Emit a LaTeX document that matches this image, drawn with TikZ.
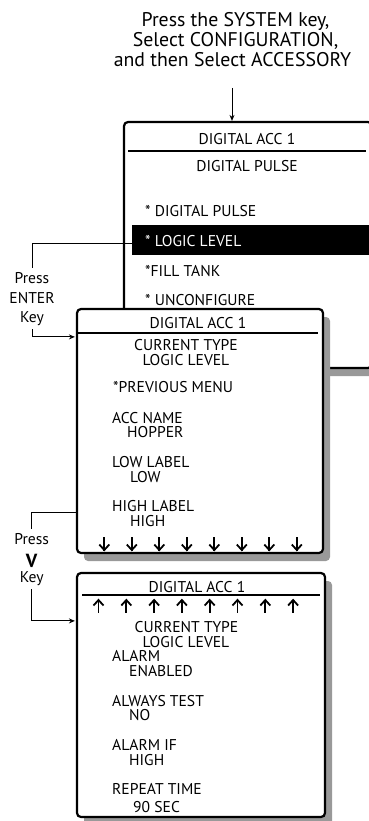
\documentclass[tikz,border=0pt]{standalone}
\usepackage{fontspec}
\setmainfont{PT Sans}
\usetikzlibrary{arrows.meta,shadows,calc}
\definecolor{shade}{gray}{0.6}
\begin{document}
\begin{tikzpicture}[x=1pt,y=-1pt,
  every node/.style={inner sep=0pt, font=\fontsize{15.6}{20}\selectfont},
  lbl/.style={anchor=base west},
  mid/.style={anchor=base},
  head/.style={anchor=base, font=\fontsize{19.8}{20}\selectfont},
  screen/.style={draw, line width=2.2pt, rounded corners=4pt, fill=white,
    drop shadow={shadow xshift=7pt, shadow yshift=-8pt, fill=shade, opacity=1}},
  rule/.style={line width=2.2pt},
  conn/.style={line width=0.9pt},
  tip/.style={-{Stealth[length=6pt,width=5pt]}},
  glyph/.style={line width=1.8pt},
  keylbl/.style={anchor=base, inner ysep=4pt},
]
\useasboundingbox (0,0) rectangle (369,821);
\clip (0,0) rectangle (369,821);

% instruction at the top
\node[head] (n1) at (235.5,26.7) {Press the SYSTEM key,};
\node[head] (n2) at (235.5,46.7) {Select CONFIGURATION,};
\node[head] (n3) at (232.5,66.7) {and then Select ACCESSORY};
\coordinate (nstart) at (232,88);

% first screen: type selection
\node[screen, minimum width=248, minimum height=246] (b1) at (248,245) {};
\draw[conn, tip] (nstart) -- (nstart |- b1.north);
\draw[rule] (128,151) -- (366,151);
\node[mid] (t1) at (247,145) {DIGITAL ACC 1};
\node[mid] (t1b) at (247,171.7) {DIGITAL PULSE};
\node[lbl] (o1) at (145,216.7) {* DIGITAL PULSE};
\node[fill=black, minimum width=240, minimum height=30, anchor=north west] (sel) at (132,225) {};
\node[lbl, text=white] (o2) at (145,246) {* LOGIC LEVEL};
\node[lbl] (o3) at (145,276) {*FILL TANK};
\node[lbl] (o4) at (145,305) {* UNCONFIGURE};

% second screen: settings, first page
\node[screen, minimum width=246, minimum height=244] (b2) at (200,431) {};
\draw[rule] (78,333) -- (318,333);
\node[mid] (t2) at (198,328) {DIGITAL ACC 1};
\node[mid] (c2a) at (186,350) {CURRENT TYPE};
\node[mid] (c2b) at (186,365) {LOGIC LEVEL};
\node[lbl] (p2) at (113,392) {*PREVIOUS MENU};
\node[lbl] (n2a) at (112,423) {ACC NAME};
\node[lbl] (n2b) at (127,437) {HOPPER};
\node[lbl] (l2a) at (112,467) {LOW LABEL};
\node[lbl] (l2b) at (130,482) {LOW};
\node[lbl] (h2a) at (112,511) {HIGH LABEL};
\node[lbl] (h2b) at (130,526) {HIGH};
\foreach \i in {0,...,7}{
  \pgfmathsetmacro{\xx}{104.3+27.5*\i}
  \draw[glyph] (\xx,537) -- (\xx,550.5);
  \draw[glyph, line join=miter] (\xx-5,544.5) -- (\xx,550) -- (\xx+5,544.5);
}

% third screen: settings, second page
\node[screen, minimum width=248, minimum height=244] (b3) at (201,695) {};
\draw[rule] (82,595) -- (320,595);
\node[mid] (t3) at (197,592) {DIGITAL ACC 1};
\foreach \i in {0,...,7}{
  \pgfmathsetmacro{\xx}{98.5+27.8*\i}
  \draw[glyph] (\xx,600) -- (\xx,613);
  \draw[glyph, line join=miter] (\xx-5,605.5) -- (\xx,600) -- (\xx+5,605.5);
}
\node[mid] (c3a) at (186.5,632) {CURRENT TYPE};
\node[mid] (c3b) at (186,647) {LOGIC LEVEL};
\node[lbl] (a3a) at (112,661.5) {ALARM};
\node[lbl] (a3b) at (129,676) {ENABLED};
\node[lbl] (w3a) at (112,706) {ALWAYS TEST};
\node[lbl] (w3b) at (129,720) {NO};
\node[lbl] (f3a) at (112,750) {ALARM IF};
\node[lbl] (f3b) at (129,765) {HIGH};
\node[lbl] (r3a) at (112,794) {REPEAT TIME};
\node[lbl] (r3b) at (133,812) {90 SEC};

% key labels and their connectors
\node[keylbl] (pe) at (32,283) {Press};
\node[keylbl] (ee) at (32,303) {ENTER};
\node[keylbl] (ke) at (32,322) {Key};
\draw[conn] ($(sel.west)+(0,3)$) -| (pe.north);
\draw[conn, tip, shorten >=1pt] (ke.south) |- ($(b2.north west)+(0,29)$);

\node[keylbl] (pv) at (31.7,544) {Press};
\node[keylbl, font=\bfseries\fontsize{19}{19}\selectfont] (vv) at (31.7,567) {V};
\node[keylbl] (kv) at (31.7,582) {Key};
\draw[conn] ($(b2.south west)+(0,-42)$) -| (pv.north);
\draw[conn, tip, shorten >=1pt] (kv.south) |- ($(b3.north west)+(0,49)$);
\end{tikzpicture}
\end{document}
